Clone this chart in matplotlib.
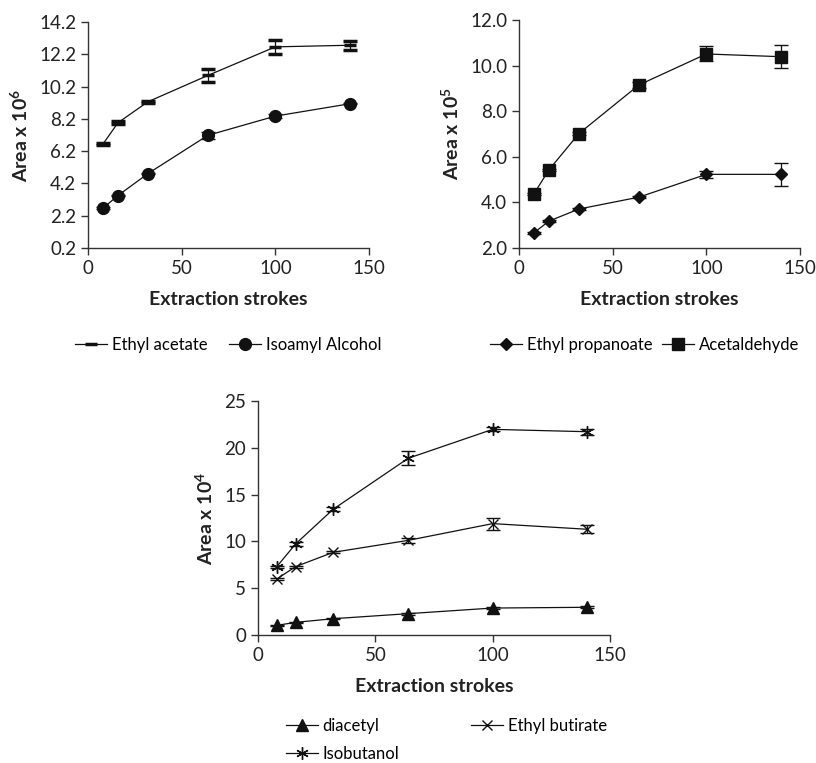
import numpy as np
import matplotlib
matplotlib.use("Agg")
import matplotlib.pyplot as plt
from matplotlib.lines import Line2D
from matplotlib.ticker import FormatStrFormatter

plt.rcParams['font.family'] = ['Lato', 'DejaVu Sans']
plt.rcParams['mathtext.fontset'] = 'custom'
plt.rcParams['mathtext.rm'] = 'Lato'
plt.rcParams['mathtext.bf'] = 'Lato:bold'

# extraction strokes (shared x values)
strokes = [8, 16, 32, 64, 100, 140]

# panel A, area x 10^6
ethyl_acetate = [6.64, 7.96, 9.26, 10.89, 12.66, 12.76]
ethyl_acetate_err = [0.05, 0.1, 0.05, 0.4, 0.45, 0.27]
isoamyl_alcohol = [2.67, 3.45, 4.81, 7.18, 8.37, 9.14]
isoamyl_alcohol_err = [0.05, 0.05, 0.05, 0.2, 0.1, 0.05]

# panel B, area x 10^5
ethyl_propanoate = [2.67, 3.18, 3.71, 4.23, 5.23, 5.23]
ethyl_propanoate_err = [0.05, 0.05, 0.05, 0.05, 0.15, 0.5]
acetaldehyde = [4.38, 5.43, 7.02, 9.15, 10.51, 10.39]
acetaldehyde_err = [0.05, 0.05, 0.05, 0.15, 0.33, 0.5]

# panel C, area x 10^4
diacetyl = [1.03, 1.35, 1.74, 2.28, 2.88, 2.96]
diacetyl_err = [0.05, 0.05, 0.05, 0.1, 0.1, 0.1]
ethyl_butirate = [5.98, 7.3, 8.83, 10.11, 11.9, 11.3]
ethyl_butirate_err = [0.1, 0.1, 0.1, 0.3, 0.65, 0.4]
isobutanol = [7.3, 9.72, 13.43, 18.88, 21.97, 21.72]
isobutanol_err = [0.1, 0.2, 0.2, 0.75, 0.2, 0.3]

W, H = 816, 763
fig = plt.figure(figsize=(W / 100, H / 100), dpi=100)
INK = '#111111'


def make_axes(left, top, right, bottom):
    return fig.add_axes([left / W, 1 - bottom / H, (right - left) / W, (bottom - top) / H])


def style(ax, yticks, fmt, exp):
    for s in ['top', 'right']:
        ax.spines[s].set_visible(False)
    for s in ['left', 'bottom']:
        ax.spines[s].set_color('#333333')
        ax.spines[s].set_linewidth(1.0)
    ax.set_xlim(0, 150)
    ax.set_xticks([0, 50, 100, 150])
    ax.set_ylim(yticks[0], yticks[-1])
    ax.set_yticks(yticks)
    if fmt:
        ax.yaxis.set_major_formatter(FormatStrFormatter(fmt))
    ax.tick_params(direction='out', length=5, width=1, colors='#333333',
                   labelsize=13.5, labelcolor='#222222')
    ax.set_xlabel('Extraction strokes', fontsize=14, fontweight='bold',
                  color='#222222', labelpad=10)
    ax.set_ylabel(r'Area x 10$^{\mathbf{%s}}$' % exp, fontsize=14,
                  fontweight='bold', color='#222222', labelpad=6)


def series(ax, y, err, marker, ms, label, mew=1.0):
    ax.errorbar(strokes, y, yerr=err, color=INK, lw=0.9, marker=marker, ms=ms,
                mew=mew, capsize=5, elinewidth=0.9, capthick=0.9)
    return Line2D([], [], color=INK, lw=0.9, marker=marker, ms=ms, mew=mew,
                  label=label)


def legend(ax, handles, x, y, **kw):
    ax.legend(handles=handles, loc='center left', bbox_to_anchor=(x / W, 1 - y / H),
              bbox_transform=fig.transFigure, frameon=False, fontsize=12,
              handlelength=1.9, handletextpad=0.3, borderpad=0.4, **kw)


# panel A
ax1 = make_axes(88, 22, 369, 248)
h1 = series(ax1, ethyl_acetate, ethyl_acetate_err, '_', 9, 'Ethyl acetate', mew=2.5)
h2 = series(ax1, isoamyl_alcohol, isoamyl_alcohol_err, 'o', 8.5, 'Isoamyl Alcohol')
style(ax1, np.arange(0.2, 14.3, 2.0), '%.1f', '6')
legend(ax1, [h1, h2], 60, 345, ncol=2, columnspacing=1.3)

# panel B
ax2 = make_axes(519, 20, 800, 248)
h3 = series(ax2, ethyl_propanoate, ethyl_propanoate_err, 'D', 6.5, 'Ethyl propanoate')
h4 = series(ax2, acetaldehyde, acetaldehyde_err, 's', 8, 'Acetaldehyde')
style(ax2, np.arange(2.0, 12.1, 2.0), '%.1f', '5')
legend(ax2, [h3, h4], 475, 345, ncol=2, columnspacing=0.6)

# panel C
ax3 = make_axes(258, 401, 610, 635)
h5 = series(ax3, diacetyl, diacetyl_err, '^', 8, 'diacetyl')
h6 = series(ax3, ethyl_butirate, ethyl_butirate_err, 'x', 7.5, 'Ethyl butirate')
h7 = series(ax3, isobutanol, isobutanol_err, (6, 2, 0), 9, 'Isobutanol')
style(ax3, [0, 5, 10, 15, 20, 25], None, '4')
legend(ax3, [h5, h7, h6], 271, 740, ncol=2, columnspacing=4.3, labelspacing=0.75)

fig.savefig('out.png', dpi=100)
